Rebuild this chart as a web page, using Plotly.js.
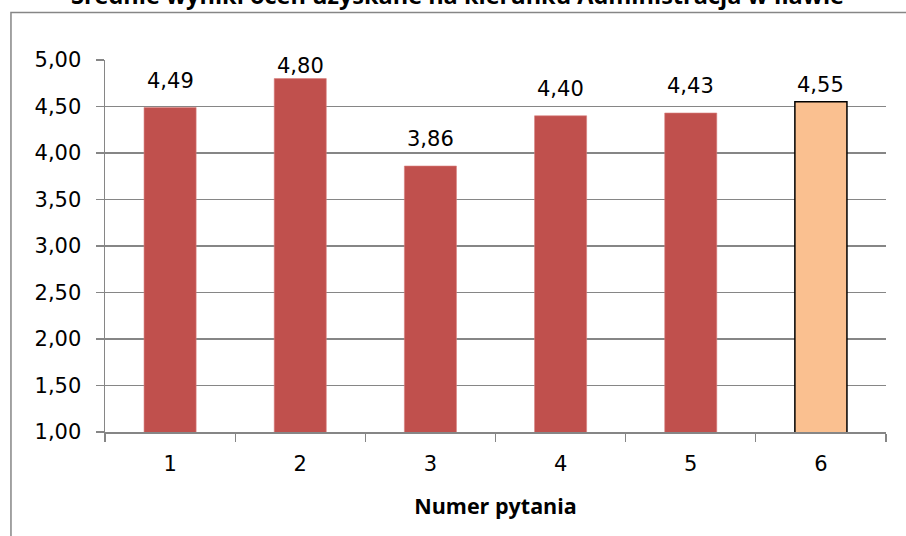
<!DOCTYPE html>
<html>
<head>
<meta charset="utf-8">
<script src="https://cdn.plot.ly/plotly-3.0.1.min.js"></script>
<style>html,body{margin:0;padding:0;background:#fff;}#chart{width:906px;height:536px;}</style>
</head>
<body>
<div id="chart"></div>
<script>
const titleText = "Średnie wyniki ocen uzyskane na kierunku Administracja w Iławie";
const xAxisTitle = "Numer pytania";
const categories = ["1", "2", "3", "4", "5", "6"];
const values = [4.49, 4.80, 3.86, 4.40, 4.43, 4.55];
const barColors = ["#C0504D", "#C0504D", "#C0504D", "#C0504D", "#C0504D", "#FAC090"];
const barLineColors = ["#D9807D", "#D9807D", "#D9807D", "#D9807D", "#D9807D", "#000000"];
const barLineWidths = [0.6, 0.6, 0.6, 0.6, 0.6, 1.5];
const labelShift = [26, 13, 27, 27, 27, 17];
const yTickVals = [1, 1.5, 2, 2.5, 3, 3.5, 4, 4.5, 5];
const yTickText = ["1,00", "1,50", "2,00", "2,50", "3,00", "3,50", "4,00", "4,50", "5,00"];

const numFont = {family: "DejaVu Sans, sans-serif", size: 21, color: "#000"};

const trace = {
  type: "bar",
  x: categories,
  y: values,
  width: 0.4,
  marker: {color: barColors, line: {color: barLineColors, width: barLineWidths}},
  textposition: "none",
  hoverinfo: "none"
};

const labelAnnotations = values.map((v, i) => ({
  x: i, y: v, xref: "x", yref: "y",
  text: v.toFixed(2).replace(".", ","),
  showarrow: false, xanchor: "center", yanchor: "middle",
  yshift: labelShift[i],
  font: numFont
}));

const layout = {
  width: 906,
  height: 536,
  margin: {l: 105, r: 20, t: 60, b: 104},
  paper_bgcolor: "#fff",
  plot_bgcolor: "#fff",
  separators: ", ",
  showlegend: false,
  xaxis: {
    type: "category",
    categoryarray: categories,
    range: [-0.5, categories.length - 0.5],
    tickson: "boundaries",
    ticks: "outside",
    ticklen: 8,
    tickcolor: "#868686",
    tickwidth: 1.2,
    showline: true,
    linecolor: "#868686",
    linewidth: 1.5,
    showgrid: false,
    tickfont: numFont,
    ticklabelstandoff: 12,
    title: {text: xAxisTitle, font: {family: "Open Sans, sans-serif", size: 21.5, color: "#000", weight: "bold"}, standoff: 24}
  },
  yaxis: {
    range: [1, 5],
    tickvals: yTickVals,
    ticktext: yTickText,
    ticks: "outside",
    ticklen: 8,
    tickcolor: "#868686",
    tickwidth: 1.2,
    showline: true,
    linecolor: "#868686",
    linewidth: 1.5,
    showgrid: true,
    gridcolor: "#868686",
    gridwidth: 1.5,
    zeroline: false,
    tickfont: numFont,
    ticklabelstandoff: 10
  },
  annotations: [{
    text: "<b>" + titleText + "</b>",
    xref: "paper", yref: "paper",
    x: 0.451, y: 1.125,
    xanchor: "center", yanchor: "bottom",
    showarrow: false,
    font: {family: "Open Sans, sans-serif", size: 23.5, color: "#000"}
  }].concat(labelAnnotations),
  shapes: [{
    type: "rect", xref: "paper", yref: "paper",
    x0: -0.1204, x1: 1.1, y0: -0.35, y1: 1.1277,
    line: {color: "#868686", width: 1.5},
    fillcolor: "rgba(0,0,0,0)",
    layer: "below"
  }]
};

Plotly.newPlot("chart", [trace], layout, {displayModeBar: false, staticPlot: true});
</script>
</body>
</html>
